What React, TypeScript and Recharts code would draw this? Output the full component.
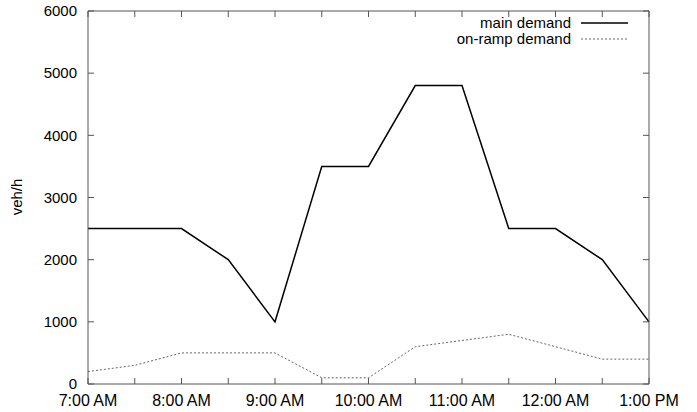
import React from 'react';
import { LineChart, Line, XAxis, YAxis } from 'recharts';

// half-hour slots from 7:00 AM to 1:00 PM
const slots = [0, 1, 2, 3, 4, 5, 6, 7, 8, 9, 10, 11, 12];
const hourLabels = ['7:00 AM', '8:00 AM', '9:00 AM', '10:00 AM', '11:00 AM', '12:00 AM', '1:00 PM'];
const mainDemand = [2500, 2500, 2500, 2000, 1000, 3500, 3500, 4800, 4800, 2500, 2500, 2000, 1000];
const rampDemand = [200, 300, 500, 500, 500, 100, 100, 600, 700, 800, 600, 400, 400];
const yTicks = [0, 1000, 2000, 3000, 4000, 5000, 6000];

const data = slots.map((s, i) => ({ slot: s, main: mainDemand[i], ramp: rampDemand[i] }));

const FONT = '"Liberation Sans", Arial, Helvetica, sans-serif';
const AXIS = '#555';
const GAP = 11;
const TICK = 6;

// ticks point into the plot, like the gnuplot original
function BottomTick(props: any) {
  const { x, y, payload } = props;
  const axisY = y - GAP;
  const label = payload.value % 2 === 0 ? hourLabels[payload.value / 2] : '';
  return (
    <g>
      <line x1={x} x2={x} y1={axisY} y2={axisY - TICK} stroke={AXIS} strokeWidth={1} />
      <text x={x} y={y} dy="0.71em" textAnchor="middle" fontSize={16} fontFamily={FONT} fill="#000">{label}</text>
    </g>
  );
}
function LeftTick(props: any) {
  const { x, y, payload } = props;
  const axisX = x + GAP;
  return (
    <g>
      <line x1={axisX} x2={axisX + TICK} y1={y} y2={y} stroke={AXIS} strokeWidth={1} />
      <text x={x} y={y} dy="0.355em" textAnchor="end" fontSize={15} fontFamily={FONT} fill="#000">{payload.value}</text>
    </g>
  );
}
function TopTick(props: any) {
  const { x, y } = props;
  return <line x1={x} x2={x} y1={y} y2={y + TICK} stroke={AXIS} strokeWidth={1} />;
}
function RightTick(props: any) {
  const { x, y } = props;
  return <line x1={x} x2={x - TICK} y1={y} y2={y} stroke={AXIS} strokeWidth={1} />;
}

const legendItems = [
  { label: 'main demand', stroke: '#000', width: 1.5, dash: undefined as string | undefined },
  { label: 'on-ramp demand', stroke: '#666', width: 1, dash: '2 2' },
];

function DemandLegend() {
  return (
    <div style={{ position: 'absolute', top: 15, right: 59, fontFamily: FONT, fontSize: 15, color: '#000' }}>
      {legendItems.map((it) => (
        <div key={it.label} style={{ display: 'flex', alignItems: 'center', justifyContent: 'flex-end', height: 16 }}>
          <span style={{ lineHeight: '16px' }}>{it.label}</span>
          <svg width={57} height={10} style={{ marginLeft: 10 }}>
            <line x1={0} y1={5} x2={47} y2={5} stroke={it.stroke} strokeWidth={it.width} strokeDasharray={it.dash} />
          </svg>
        </div>
      ))}
    </div>
  );
}

export default function App() {
  return (
    <div style={{ position: 'absolute', left: 0, top: 0, width: 697, height: 412, background: '#fff' }}>
      <LineChart width={697} height={412} data={data} margin={{ top: 10, right: 47, bottom: 0, left: 18 }}>
        <XAxis
          dataKey="slot"
          type="number"
          domain={[0, 12]}
          ticks={slots}
          interval={0}
          height={28}
          tickSize={0}
          tickMargin={GAP}
          axisLine={{ stroke: AXIS }}
          tickLine={false}
          tick={<BottomTick />}
        />
        <XAxis
          xAxisId="top"
          dataKey="slot"
          orientation="top"
          type="number"
          domain={[0, 12]}
          ticks={slots}
          interval={0}
          height={1}
          tickSize={0}
          tickMargin={0}
          axisLine={{ stroke: AXIS }}
          tickLine={false}
          tick={<TopTick />}
        />
        <YAxis
          domain={[0, 6000]}
          ticks={yTicks}
          interval={0}
          width={70}
          tickSize={0}
          tickMargin={GAP}
          axisLine={{ stroke: AXIS }}
          tickLine={false}
          tick={<LeftTick />}
          label={{
            content: () => (
              <text x={16} y={197} transform="rotate(-90 16 197)" textAnchor="middle" dominantBaseline="central" fontSize={15} fontFamily={FONT} fill="#000">
                veh/h
              </text>
            ),
          }}
        />
        <YAxis
          yAxisId="right"
          orientation="right"
          domain={[0, 6000]}
          ticks={yTicks}
          interval={0}
          width={1}
          tickSize={0}
          tickMargin={0}
          axisLine={{ stroke: AXIS }}
          tickLine={false}
          tick={<RightTick />}
        />
        {/* invisible series so the top and right frame axes get drawn */}
        <Line xAxisId="top" yAxisId="right" dataKey="main" stroke="none" dot={false} activeDot={false} isAnimationActive={false} />
        <Line type="linear" dataKey="main" stroke="#000" strokeWidth={1.5} dot={false} isAnimationActive={false} />
        <Line type="linear" dataKey="ramp" stroke="#666" strokeWidth={1} strokeDasharray="2 2" dot={false} isAnimationActive={false} />
      </LineChart>
      <DemandLegend />
    </div>
  );
}
